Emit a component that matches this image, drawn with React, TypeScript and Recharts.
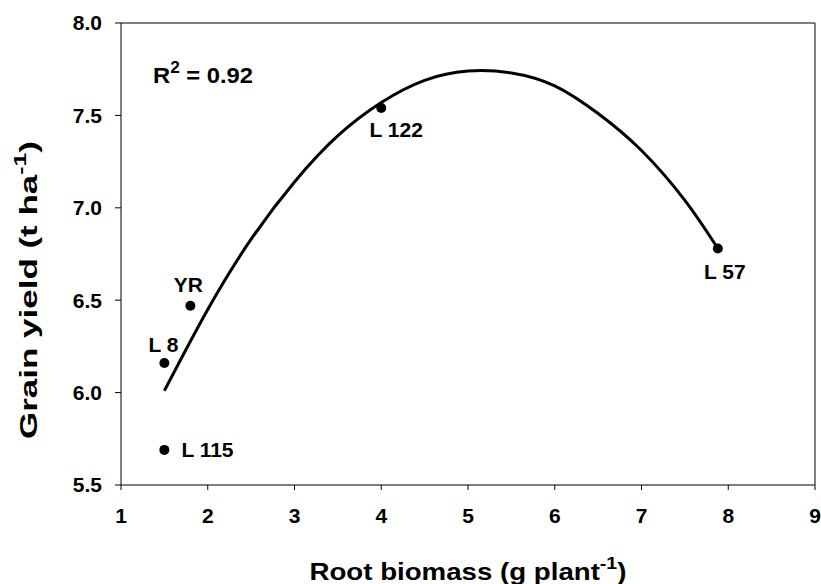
import React from "react";
import { ComposedChart, Scatter, Line, XAxis, YAxis, Label, ReferenceLine } from "recharts";

// genotypes and their measured values
const genotypes = ["L 115", "L 8", "YR", "L 122", "L 57"];
const rootBiomass = [1.5, 1.5, 1.8, 4.0, 7.88];
const grainYield = [5.69, 6.16, 6.47, 7.54, 6.78];

// fitted curve
const fitX = [1.5, 2, 2.5, 3, 3.5, 4, 4.5, 5, 5.5, 6, 6.5, 7, 7.5, 7.88];
const fitY = [6.01, 6.45, 6.83, 7.14, 7.39, 7.57, 7.69, 7.74, 7.73, 7.66, 7.51, 7.31, 7.04, 6.78];

const xTicks = [1, 2, 3, 4, 5, 6, 7, 8, 9];
const yTicks = [5.5, 6.0, 6.5, 7.0, 7.5, 8.0];

const FONT = '"Liberation Sans", Arial, sans-serif';

// where each point label sits relative to its dot
const labelPos: Record<string, { dx: number; dy: number; anchor: "start" | "middle" | "end" }> = {
  "L 115": { dx: 17, dy: 7, anchor: "start" },
  "L 8": { dx: -1, dy: -11, anchor: "middle" },
  YR: { dx: -2, dy: -14, anchor: "middle" },
  "L 122": { dx: 15, dy: 29, anchor: "middle" },
  "L 57": { dx: 7, dy: 31, anchor: "middle" },
};

const points = genotypes.map((name, i) => ({ name, x: rootBiomass[i], y: grainYield[i] }));
const curve = fitX.map((x, i) => ({ x, y: fitY[i] }));

const Dot = (props: any) => {
  const { cx, cy, payload } = props;
  const p = labelPos[payload.name];
  return (
    <g>
      <circle cx={cx} cy={cy} r={5} fill="#000" />
      <text x={cx + p.dx} y={cy + p.dy} textAnchor={p.anchor} fontFamily={FONT} fontWeight="bold" fontSize={21} fill="#000">
        {payload.name}
      </text>
    </g>
  );
};

const XTitle = ({ viewBox }: any) => {
  const cx = viewBox.x + viewBox.width / 2;
  return (
    <text x={cx} y={580} textAnchor="middle" fontFamily={FONT} fontWeight="bold" fontSize={24} fill="#000"
      textLength={317} lengthAdjust="spacingAndGlyphs">
      Root biomass (g plant
      <tspan fontSize={17} dy={-11}>-1</tspan>
      <tspan dy={11}>)</tspan>
    </text>
  );
};

const YTitle = ({ viewBox }: any) => {
  const cy = 290;
  return (
    <text x={37} y={cy} transform={`rotate(-90 37 ${cy})`} textAnchor="middle" fontFamily={FONT} fontWeight="bold" fontSize={24} fill="#000"
      textLength={298} lengthAdjust="spacingAndGlyphs">
      Grain yield (t ha
      <tspan fontSize={17} dy={-11}>-1</tspan>
      <tspan dy={11}>)</tspan>
    </text>
  );
};

export default function App() {
  return (
    <div style={{ position: "absolute", left: 0, top: 0, background: "#fff" }}>
      <ComposedChart width={821} height={584} margin={{ top: 23, right: 6, left: 0, bottom: 0 }}>
        <XAxis
          type="number"
          dataKey="x"
          domain={[1, 9]}
          ticks={xTicks}
          interval={0}
          height={99}
          stroke="#000"
          tickSize={5}
          tickMargin={18}
          tick={{ fill: "#000", fontSize: 21, fontWeight: "bold", fontFamily: FONT }}
        >
          <Label content={<XTitle />} />
        </XAxis>
        <YAxis
          type="number"
          dataKey="y"
          domain={[5.5, 8]}
          ticks={yTicks}
          interval={0}
          width={121}
          stroke="#000"
          tickSize={6}
          tickMargin={13}
          tickFormatter={(v: number) => v.toFixed(1)}
          tick={{ fill: "#000", fontSize: 21, fontWeight: "bold", fontFamily: FONT }}
        >
          <Label content={<YTitle />} />
        </YAxis>
        <ReferenceLine y={8} stroke="#000" />
        <ReferenceLine x={9} stroke="#000" />
        <Line data={curve} dataKey="y" type="natural" stroke="#000" strokeWidth={3} dot={false} activeDot={false} isAnimationActive={false} />
        <Scatter data={points} dataKey="y" shape={<Dot />} isAnimationActive={false} />
        <text x={153} y={83} fontFamily={FONT} fontWeight="bold" fontSize={22} fill="#000" textLength={100} lengthAdjust="spacingAndGlyphs">
          R<tspan fontSize={16} dy={-10}>2</tspan>
          <tspan dy={10}> = 0.92</tspan>
        </text>
      </ComposedChart>
    </div>
  );
}
